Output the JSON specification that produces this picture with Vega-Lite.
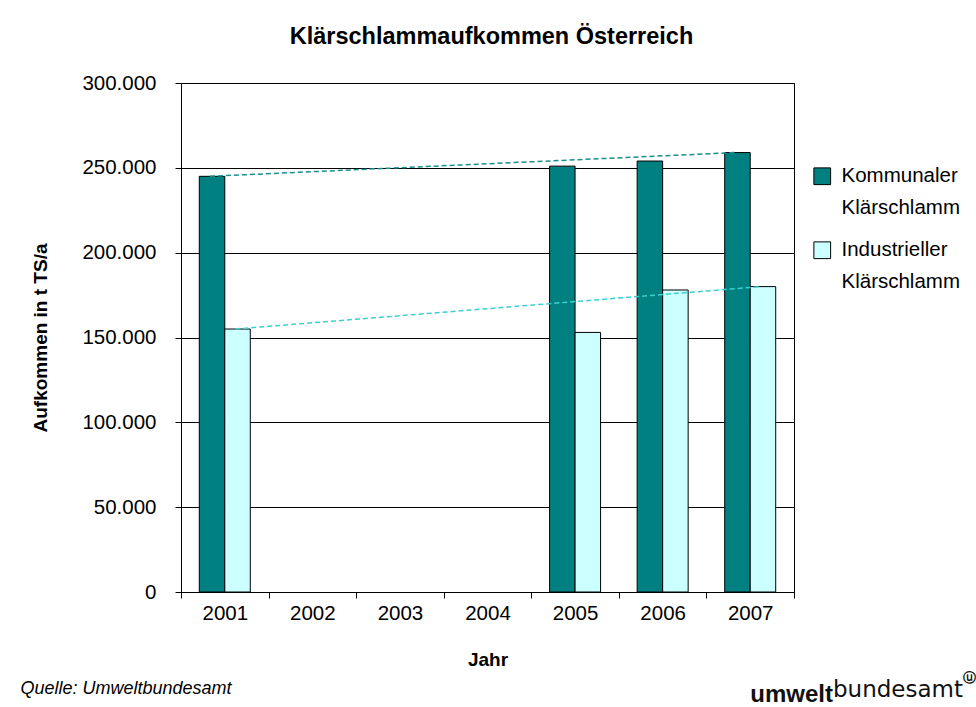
{
  "$schema": "https://vega.github.io/schema/vega-lite/v6.json",
  "background": "white",
  "padding": {"left": 20, "top": 24, "right": 0, "bottom": 0},
  "config": {
    "font": "Liberation Sans",
    "locale": {"number": {"decimal": ",", "thousands": ".", "grouping": [3], "currency": ["", " €"]}},
    "view": {"stroke": "black", "strokeWidth": 1},
    "style": {"guide-label": {"lineHeight": 32}},
    "title": {"color": "black"}
  },
  "title": {"text": "ⓤ", "orient": "bottom", "anchor": "end", "frame": "bounds", "font": "DejaVu Sans", "fontSize": 13, "fontWeight": "bold", "color": "#111", "offset": -35, "dx": 13},
  "vconcat": [
    {
      "title": {"text": "umwelt", "orient": "bottom", "anchor": "end", "frame": "bounds", "font": "Liberation Sans", "fontSize": 24, "fontWeight": "bold", "color": "#111", "offset": -19, "dx": -130},
      "vconcat": [
        {
          "title": {"text": "bundesamt", "orient": "bottom", "anchor": "end", "frame": "bounds", "font": "DejaVu Sans", "fontSize": 23, "fontWeight": "normal", "color": "#111", "offset": -19, "dx": 168},
          "vconcat": [
            {
              "title": {"text": "Quelle: Umweltbundesamt", "orient": "bottom", "anchor": "start", "frame": "bounds", "font": "Liberation Sans", "fontSize": 18, "fontStyle": "italic", "fontWeight": "normal", "color": "black", "offset": 10, "dx": -11},
              "vconcat": [
                {
                  "title": {"text": "Klärschlammaufkommen Österreich", "fontSize": 23.5, "fontWeight": "bold", "font": "Liberation Sans", "offset": 25, "frame": "group", "anchor": "middle", "color": "black", "dx": 4},
                  "width": 613,
                  "height": 509,
                  "data": {"values": [
                    {"Jahr": "2001", "Art": "Kommunaler Klärschlamm", "Aufkommen": 245000},
                    {"Jahr": "2001", "Art": "Industrieller Klärschlamm", "Aufkommen": 155000},
                    {"Jahr": "2005", "Art": "Kommunaler Klärschlamm", "Aufkommen": 251000},
                    {"Jahr": "2005", "Art": "Industrieller Klärschlamm", "Aufkommen": 153000},
                    {"Jahr": "2006", "Art": "Kommunaler Klärschlamm", "Aufkommen": 254000},
                    {"Jahr": "2006", "Art": "Industrieller Klärschlamm", "Aufkommen": 178000},
                    {"Jahr": "2007", "Art": "Kommunaler Klärschlamm", "Aufkommen": 259000},
                    {"Jahr": "2007", "Art": "Industrieller Klärschlamm", "Aufkommen": 180000}
                  ]},
                  "encoding": {
                    "x": {
                      "field": "Jahr", "type": "nominal",
                      "scale": {"domain": ["2001", "2002", "2003", "2004", "2005", "2006", "2007"], "paddingInner": 0, "paddingOuter": 0},
                      "axis": {"title": "Jahr", "labelAngle": 0, "tickBand": "extent", "grid": false, "domainColor": "black", "tickColor": "black", "tickSize": 6, "labelFontSize": 20.5, "labelColor": "black", "labelPadding": 5, "titleFontSize": 19, "titleFontWeight": "bold", "titleColor": "black", "titlePadding": 27}
                    },
                    "y": {
                      "field": "Aufkommen", "type": "quantitative",
                      "scale": {"domain": [0, 300000], "nice": false},
                      "axis": {"title": "Aufkommen in t TS/a", "values": [0, 50000, 100000, 150000, 200000, 250000, 300000], "format": ",d", "grid": true, "gridColor": "black", "gridOpacity": 1, "domainColor": "black", "tickColor": "black", "tickSize": 6, "labelFontSize": 20.5, "labelColor": "black", "labelPadding": 19, "titleFontSize": 19, "titleFontWeight": "bold", "titleColor": "black", "titlePadding": 31}
                    }
                  },
                  "layer": [
                    {
                      "mark": {"type": "bar", "stroke": "black", "strokeWidth": 1},
                      "encoding": {
                        "xOffset": {"field": "Art", "type": "nominal", "scale": {"domain": ["Kommunaler Klärschlamm", "Industrieller Klärschlamm"], "paddingOuter": 0.717, "paddingInner": 0}},
                        "fill": {
                          "field": "Art", "type": "nominal",
                          "scale": {"domain": ["Kommunaler Klärschlamm", "Industrieller Klärschlamm"], "range": ["#008080", "#CCFFFF"]},
                          "legend": {"title": null, "orient": "none", "legendX": 631, "legendY": 83, "padding": 0, "symbolType": "square", "symbolSize": 280, "symbolStrokeColor": "black", "symbolStrokeWidth": 1, "symbolOpacity": 1, "labelFontSize": 20.5, "labelFont": "Liberation Sans", "labelColor": "black", "labelOffset": 9, "labelLimit": 300, "labelExpr": "split(datum.label, ' ')", "rowPadding": 20}
                        }
                      }
                    },
                    {
                      "transform": [{"filter": "datum.Art == 'Kommunaler Klärschlamm' && (datum.Jahr == '2001' || datum.Jahr == '2007')"}],
                      "mark": {"type": "line", "strokeDash": [5, 3], "strokeWidth": 1.5, "stroke": "#178f8f"},
                      "encoding": {
                        "x": {"field": "Jahr", "type": "nominal", "bandPosition": 0.33}
                      }
                    },
                    {
                      "transform": [{"filter": "datum.Art == 'Industrieller Klärschlamm' && (datum.Jahr == '2001' || datum.Jahr == '2007')"}],
                      "mark": {"type": "line", "strokeDash": [5, 3], "strokeWidth": 1.5, "stroke": "#3ccfcf"},
                      "encoding": {
                        "x": {"field": "Jahr", "type": "nominal", "bandPosition": 0.62}
                      }
                    }
                  ]
                }
              ]
            }
          ]
        }
      ]
    }
  ]
}
